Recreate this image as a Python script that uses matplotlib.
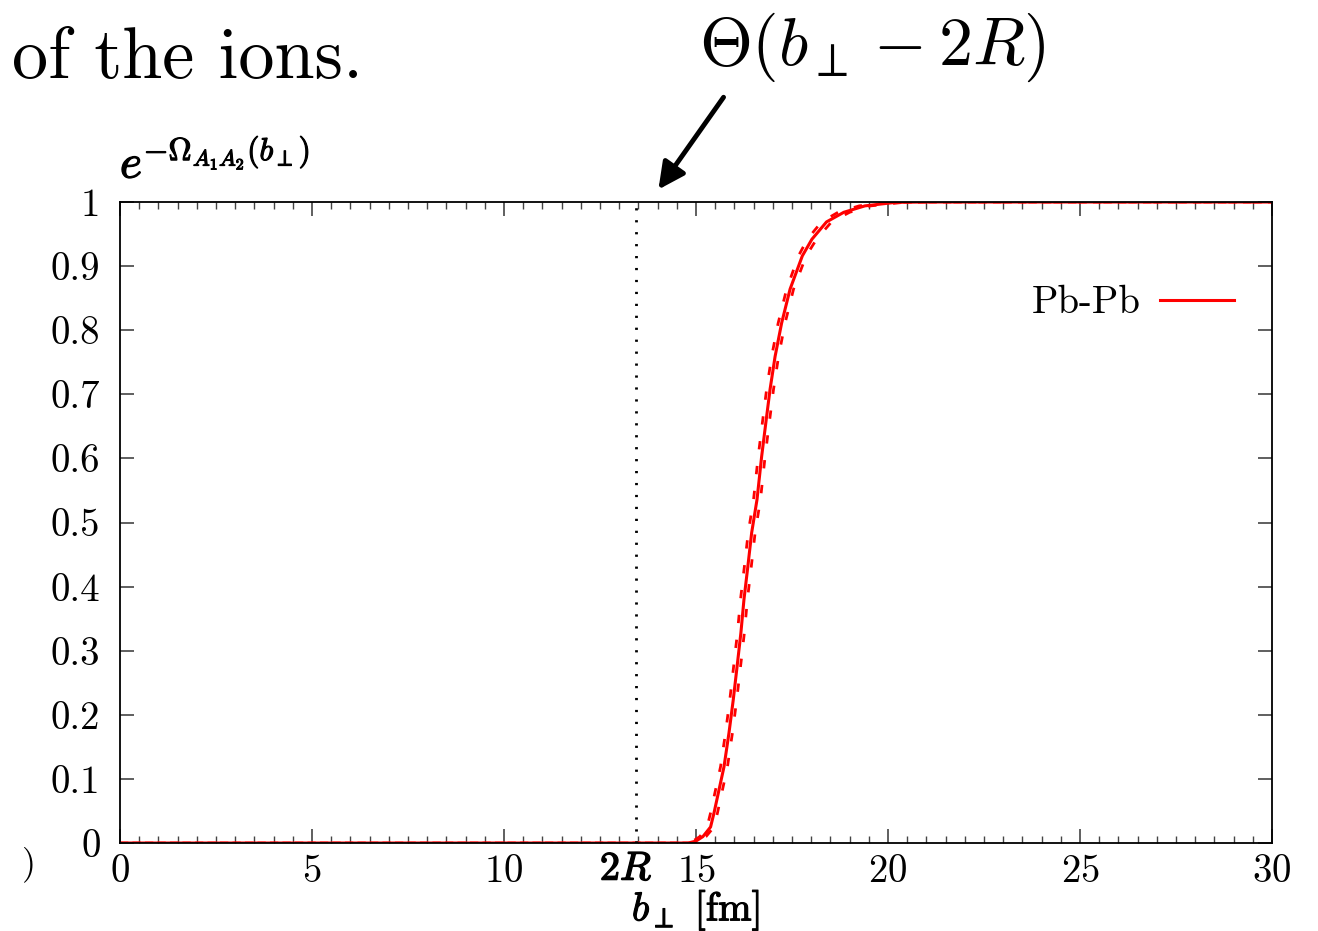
import matplotlib
matplotlib.use('Agg')
import matplotlib.pyplot as plt
import matplotlib.patheffects as pe
from matplotlib.ticker import MultipleLocator

plt.rcParams['font.family'] = 'cmr10'
plt.rcParams['mathtext.fontset'] = 'cm'
plt.rcParams['axes.formatter.use_mathtext'] = True

# b_perp [fm] vs exp(-Omega)
y_vals = [0.0, 0.0, 0.003, 0.01, 0.025, 0.047, 0.119, 0.172, 0.223, 0.275, 0.328, 0.380,
          0.431, 0.484, 0.536, 0.603, 0.656, 0.708, 0.759, 0.811, 0.864, 0.916,
          0.942, 0.969, 0.984, 0.994, 0.9995, 1.0, 1.0]
x_solid = [0.0, 14.8, 15.0, 15.18, 15.38, 15.47, 15.73, 15.86, 15.97, 16.07, 16.17, 16.25,
           16.35, 16.45, 16.59, 16.71, 16.82, 16.93, 17.06, 17.23, 17.45, 17.77,
           18.02, 18.4, 18.85, 19.4, 20.2, 21.0, 30.0]
x_lower = [0.0, 14.72, 14.92, 15.1, 15.29, 15.38, 15.64, 15.77, 15.88, 15.98, 16.08, 16.16,
           16.26, 16.36, 16.50, 16.62, 16.73, 16.84, 16.97, 17.14, 17.36, 17.67,
           17.9, 18.27, 18.7, 19.25, 20.0, 20.85, 30.0]
x_upper = [0.0, 14.88, 15.08, 15.26, 15.47, 15.56, 15.82, 15.95, 16.06, 16.16, 16.26, 16.34,
           16.44, 16.54, 16.68, 16.80, 16.91, 17.02, 17.15, 17.32, 17.54, 17.87,
           18.14, 18.53, 19.0, 19.55, 20.4, 21.15, 30.0]
two_r = 13.44
x_ticks = [0, 5, 10, 15, 20, 25, 30]
y_ticks = [0, 0.1, 0.2, 0.3, 0.4, 0.5, 0.6, 0.7, 0.8, 0.9, 1]
y_ticklabels = ['0', '0.1', '0.2', '0.3', '0.4', '0.5', '0.6', '0.7', '0.8', '0.9', '1']

fig = plt.figure(figsize=(13.18, 9.31), dpi=100)
ax = fig.add_axes([0.0910, 0.0945, 0.8741, 0.6885])

dash = (0, (3.0, 6.0))
ax.plot(x_lower, y_vals, color='red', lw=2.0, ls=dash)
ax.plot(x_upper, y_vals, color='red', lw=2.0, ls=(4.5, (3.0, 6.0)))
ax.plot(x_solid, y_vals, color='red', lw=2.2, label='Pb-Pb')
ax.plot([two_r, two_r], [0, 1], color='black', lw=2.0, ls=(0, (0.8, 3.5)))

ax.set_xlim(0, 30)
ax.set_ylim(0, 1)
ax.set_xticks(x_ticks)
ax.set_yticks(y_ticks)
ax.set_yticklabels(y_ticklabels)
ax.xaxis.set_minor_locator(MultipleLocator(0.5))
ax.tick_params(which='both', direction='in', top=True, right=True, labelsize=28, color='#444444')
ax.tick_params(which='major', length=10, width=1.2)
ax.tick_params(which='minor', length=5, width=1.0)
ax.tick_params(axis='x', pad=8)
ax.tick_params(axis='y', pad=14)
for s in ax.spines.values():
    s.set_linewidth(1.3)

bold = [pe.withStroke(linewidth=1.0, foreground='black')]
ax.text(13.18, -0.042, r'$2R$', fontsize=29, ha='center', va='center', path_effects=bold)
ax.set_xlabel(r'$b_\perp$ [fm]', fontsize=29,
              path_effects=[pe.withStroke(linewidth=0.8, foreground='black')])
ax.xaxis.set_label_coords(0.5, -0.072)

ax.legend(loc='center right', bbox_to_anchor=(0.967, 0.842), frameon=False,
          markerfirst=False, fontsize=28, handlelength=1.9, handletextpad=0.5,
          borderaxespad=0, borderpad=0)

fig.text(0.091, 0.809, r'$e$', fontsize=34, va='baseline', path_effects=bold)
fig.text(0.109, 0.828, r'$-\Omega_{A_1A_2}(b_\perp)$', fontsize=23, va='baseline',
         path_effects=[pe.withStroke(linewidth=0.8, foreground='black')])
fig.text(0.009, 0.916, 'of the ions.', fontsize=52, va='baseline')
fig.text(0.6616, 0.930, r'$\Theta(b_\perp - 2R)$', fontsize=49, ha='center', va='baseline')
fig.text(0.017, 0.062, ')', fontsize=26)

ax.annotate('', xy=(13.98, 1.016), xytext=(15.76, 1.167),
            arrowprops=dict(arrowstyle='-|>', lw=3.5, color='black', mutation_scale=40),
            annotation_clip=False)

fig.savefig('out.png', dpi=100)
